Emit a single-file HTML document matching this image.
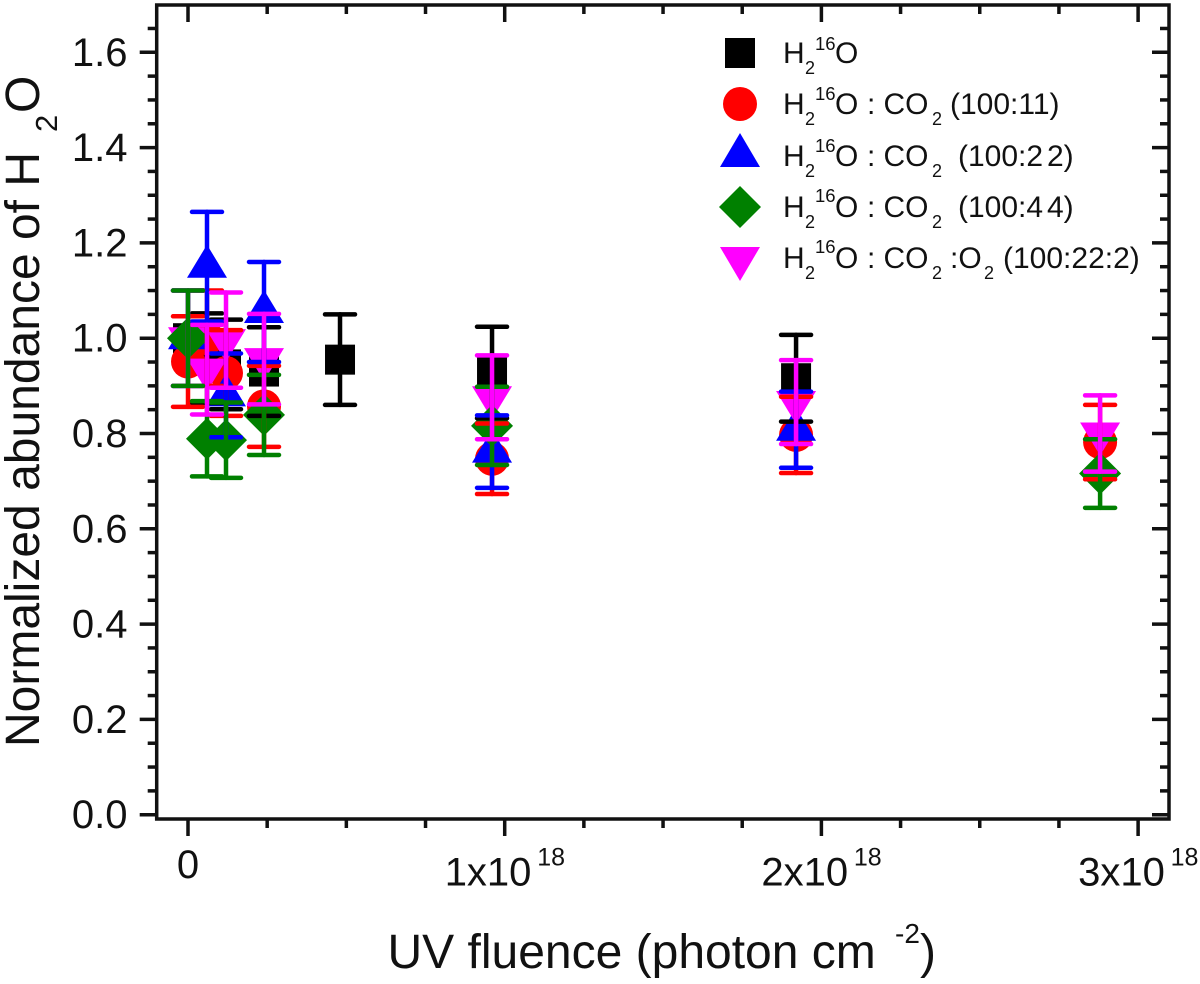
<!DOCTYPE html>
<html lang="en">
<head>
<meta charset="utf-8">
<title>Normalized abundance of H2O vs UV fluence</title>
<style>
html,body{margin:0;padding:0;background:#fff;}
svg{display:block;font-family:"Liberation Sans",Arial,sans-serif;fill:#111;}
text{fill:#111;}
</style>
</head>
<body>
<svg id="chart" width="1200" height="984" viewBox="0 0 1200 984" xmlns="http://www.w3.org/2000/svg">
  <g id="marks"></g>
  <g id="errors"></g>
  <g id="axes"></g>

  <g>
    <text transform="translate(39,747) rotate(-90)" font-size="48">Normalized abundance of H</text>
    <text transform="translate(57,132) rotate(-90)" font-size="31">2</text>
    <text transform="translate(39,113) rotate(-90)" font-size="48">O</text>
  </g>
  <g>
    <text x="387.5" y="968" font-size="48">UV fluence (photon cm</text>
    <text x="895" y="943" font-size="28">-2</text>
    <text x="920" y="968" font-size="48">)</text>
  </g>

  <g id="legend" font-size="30">
    <g>
      <rect x="725" y="38" width="30" height="30" fill="#000"/>
      <text x="783" y="63">H</text><text x="805" y="74" font-size="18">2</text><text x="815" y="50" font-size="18.5">16</text><text x="835" y="63">O</text>
    </g>
    <g>
      <circle cx="740" cy="104" r="17" fill="#f00"/>
      <text x="783" y="114">H</text><text x="805" y="125" font-size="18">2</text><text x="815" y="100" font-size="18.5">16</text><text x="835" y="114">O</text>
      <text x="867" y="114">:</text><text x="883.5" y="114">CO</text><text x="932" y="125" font-size="18">2</text><text x="950" y="114">(100:11)</text>
    </g>
    <g>
      <polygon points="740,133 760,167 720,167" fill="#00f"/>
      <text x="783" y="166">H</text><text x="805" y="177" font-size="18">2</text><text x="815" y="152" font-size="18.5">16</text><text x="835" y="166">O</text>
      <text x="867" y="166">:</text><text x="883.5" y="166">CO</text><text x="932" y="177" font-size="18">2</text><text x="958" y="166">(100:2</text><text x="1047" y="166">2)</text>
    </g>
    <g>
      <polygon points="740,186 761,207 740,228 719,207" fill="#008000"/>
      <text x="783" y="217">H</text><text x="805" y="228" font-size="18">2</text><text x="815" y="202" font-size="18.5">16</text><text x="835" y="217">O</text>
      <text x="867" y="217">:</text><text x="883.5" y="217">CO</text><text x="932" y="228" font-size="18">2</text><text x="958" y="217">(100:4</text><text x="1047" y="217">4)</text>
    </g>
    <g>
      <polygon points="720,247 760,247 740,281" fill="#f0f"/>
      <text x="783" y="268">H</text><text x="805" y="279" font-size="18">2</text><text x="815" y="253" font-size="18.5">16</text><text x="835" y="268">O</text>
      <text x="867" y="268">:</text><text x="883.5" y="268">CO</text><text x="932" y="279" font-size="18">2</text><text x="950" y="268">:O</text><text x="984" y="279" font-size="18">2</text><text x="1003" y="268">(100:22:2)</text>
    </g>
  </g>
</svg>
<script>
// Data. Fluence is in units of 1e18 photon cm^-2.
const h2oFluence = [0, 0.06, 0.12, 0.24, 0.48, 0.96, 1.92];
const h2oValues = [1.0, 0.958, 0.945, 0.93, 0.955, 0.928, 0.916];
const h2oErrors = [0.1, 0.094, 0.094, 0.093, 0.095, 0.096, 0.091];

const co2a11Fluence = [0, 0.06, 0.12, 0.24, 0.96, 1.92, 2.88];
const co2a11Values = [0.951, 1.0, 0.927, 0.857, 0.747, 0.797, 0.782];
const co2a11Errors = [0.095, 0.1, 0.09, 0.085, 0.074, 0.08, 0.078];

const co2a22Fluence = [0, 0.06, 0.12, 0.24, 0.96, 1.92];
const co2a22Values = [1.0, 1.15, 0.88, 1.055, 0.762, 0.808];
const co2a22Errors = [0.1, 0.115, 0.088, 0.105, 0.076, 0.08];

const co2a44Fluence = [0, 0.06, 0.12, 0.24, 0.96, 2.88];
const co2a44Values = [1.0, 0.789, 0.786, 0.839, 0.816, 0.716];
const co2a44Errors = [0.1, 0.079, 0.079, 0.084, 0.082, 0.072];

const o2mixFluence = [0, 0.06, 0.12, 0.24, 0.96, 1.92, 2.88];
const o2mixValues = [1.0, 0.934, 0.996, 0.956, 0.876, 0.866, 0.80];
const o2mixErrors = [0.1, 0.094, 0.1, 0.095, 0.088, 0.088, 0.08];

const yTickLabels = ["0.0", "0.2", "0.4", "0.6", "0.8", "1.0", "1.2", "1.4", "1.6"];
const yTickValues = [0, 0.2, 0.4, 0.6, 0.8, 1.0, 1.2, 1.4, 1.6];
const xTickValues = [0, 1, 2, 3];
const xTickBases = ["0", "1x10", "2x10", "3x10"];
const xTickExponent = "18";

const NS = "http://www.w3.org/2000/svg";
const frame = { left: 156.7, right: 1169, top: 5, bottom: 819 };
function xScale(v) { return 188 + v * 316.7; }
function yScale(v) { return 814.7 - v * 476.5; }

function mk(tag, parent, attrs) {
  const el = document.createElementNS(NS, tag);
  for (const k in attrs) el.setAttribute(k, attrs[k]);
  parent.appendChild(el);
  return el;
}

const seriesList = [
  { key: "h2o", shape: "square", color: "#000", fluence: h2oFluence, values: h2oValues, errors: h2oErrors },
  { key: "co2-100-11", shape: "circle", color: "#f00", fluence: co2a11Fluence, values: co2a11Values, errors: co2a11Errors },
  { key: "co2-100-22", shape: "up", color: "#00f", fluence: co2a22Fluence, values: co2a22Values, errors: co2a22Errors },
  { key: "o2-100-22-2", shape: "down", color: "#f0f", fluence: o2mixFluence, values: o2mixValues, errors: o2mixErrors },
  { key: "co2-100-44", shape: "diamond", color: "#008000", fluence: co2a44Fluence, values: co2a44Values, errors: co2a44Errors }
];

function drawSymbol(parent, s, cx, cy) {
  let el;
  if (s.shape === "square") {
    el = mk("rect", parent, { x: cx - 15, y: cy - 15, width: 30, height: 30, fill: s.color });
  } else if (s.shape === "circle") {
    el = mk("circle", parent, { cx: cx, cy: cy, r: 17, fill: s.color });
  } else if (s.shape === "up") {
    el = mk("polygon", parent, { points: [cx, cy - 22, cx + 20, cy + 11, cx - 20, cy + 11].join(" "), fill: s.color });
  } else if (s.shape === "down") {
    el = mk("polygon", parent, { points: [cx - 20, cy - 11, cx + 20, cy - 11, cx, cy + 22].join(" "), fill: s.color });
  } else {
    el = mk("polygon", parent, { points: [cx, cy - 21, cx + 21, cy, cx, cy + 21, cx - 21, cy].join(" "), fill: s.color });
  }
  return el;
}

function drawError(parent, s, i) {
  const cx = xScale(s.fluence[i]);
  const hi = yScale(s.values[i] + s.errors[i]);
  const lo = yScale(s.values[i] - s.errors[i]);
  const g = mk("g", parent, { stroke: s.color, "stroke-width": 4.5, "stroke-linecap": "round" });
  
  
  mk("line", g, { x1: cx, x2: cx, y1: hi, y2: lo });
  mk("line", g, { x1: cx - 15, x2: cx + 15, y1: hi, y2: hi });
  mk("line", g, { x1: cx - 15, x2: cx + 15, y1: lo, y2: lo });
}

const marksLayer = document.getElementById("marks");
const errorsLayer = document.getElementById("errors");

seriesList.forEach(function (s) {
  const g = mk("g", marksLayer, {});
  
  
  s.values.forEach(function (v, i) {
    const el = drawSymbol(g, s, xScale(s.fluence[i]), yScale(v));
    
    
  });
});

// Error bar stacking: black, red, blue, green, magenta; the green zero-fluence bar sits on top.
const errorOrder = [seriesList[0], seriesList[1], seriesList[2], seriesList[4], seriesList[3]];
errorOrder.forEach(function (s) {
  s.values.forEach(function (v, i) {
    if (s.shape === "diamond" && i === 0) return;
    drawError(errorsLayer, s, i);
  });
});
drawError(errorsLayer, seriesList[4], 0);

const axes = document.getElementById("axes");
const axisLine = { stroke: "#111", "stroke-width": 3.5, "stroke-linecap": "butt" };

const box = mk("rect", axes, { x: frame.left, y: frame.top, width: frame.right - frame.left, height: frame.bottom - frame.top, fill: "none", stroke: "#111", "stroke-width": 3.5 });



function tick(x1, y1, x2, y2) {
  const t = mk("line", axes, Object.assign({ x1: x1, y1: y1, x2: x2, y2: y2 }, axisLine));
  
  
}

// y ticks: four intervals between labelled values
for (let k = 0; k <= 33; k++) {
  const y = yScale(k * 0.05);
  const major = k % 4 === 0;
  tick(frame.left, y, frame.left - (major ? 17 : 9), y);
  tick(frame.right, y, frame.right - (major ? 17 : 9), y);
}
// x ticks: four intervals per 1e18
for (let k = 0; k <= 12; k++) {
  const x = xScale(k * 0.25);
  const major = k % 4 === 0;
  tick(x, frame.bottom, x, frame.bottom + (major ? 17 : 9));
  tick(x, frame.top, x, frame.top + (major ? 17 : 9));
}

yTickValues.forEach(function (v, i) {
  const t = mk("text", axes, { x: 127.5, y: yScale(v) + 13.5, "text-anchor": "end", "font-size": 40 });
  t.textContent = yTickLabels[i];
  
  
});

xTickValues.forEach(function (v, i) {
  const cx = xScale(v);
  if (v === 0) {
    const z = mk("text", axes, { x: cx, y: 878, "text-anchor": "middle", "font-size": 40 });
    z.textContent = xTickBases[i];
    
    
    return;
  }
  const b = mk("text", axes, { x: cx - 60, y: 885.5, "font-size": 40 });
  b.textContent = xTickBases[i];
  
  
  const e = mk("text", axes, { x: cx + 32.5, y: 865.5, "font-size": 25 });
  e.textContent = xTickExponent;
  
  
});
</script>
</body>
</html>
